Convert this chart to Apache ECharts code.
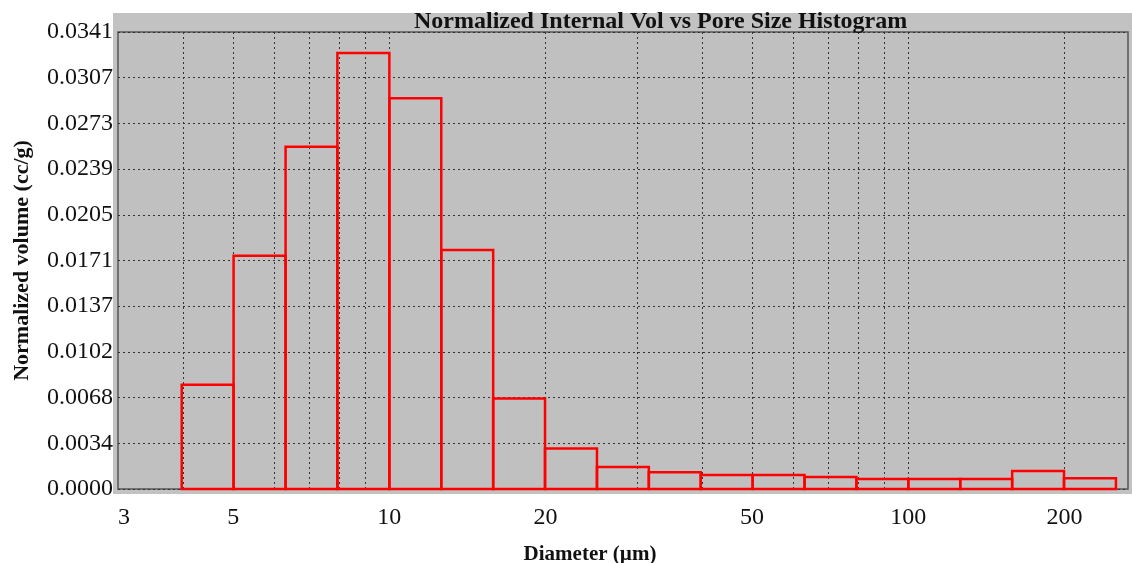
<!DOCTYPE html>
<html>
<head>
<meta charset="utf-8">
<script src="https://cdn.jsdelivr.net/npm/echarts@6/dist/echarts.min.js"></script>
<style>
html,body{margin:0;padding:0;background:#fff;}
#chart{width:1132px;height:563px;}
</style>
</head>
<body>
<div id="chart"></div>
<script>
// ---- data ----
const chartTitle = 'Normalized Internal Vol vs Pore Size Histogram';
const xAxisName = 'Diameter (µm)';
const yAxisName = 'Normalized volume (cc/g)';
// histogram bin edges (µm)
const binEdges = [3.98, 5.01, 6.31, 7.94, 10.0, 12.59, 15.85, 19.95, 25.12, 31.62, 39.81, 50.12, 63.10, 79.43, 100.0, 125.9, 158.5, 199.5, 251.2];
// normalized volume per bin (cc/g)
const volumes = [0.00778, 0.01743, 0.02556, 0.03257, 0.02920, 0.01785, 0.00676, 0.00302, 0.00165, 0.00125, 0.00105, 0.00105, 0.00090, 0.00075, 0.00075, 0.00075, 0.00135, 0.00080];
// axis ticks
const xLabelValues = [3, 5, 10, 20, 50, 100, 200];
const xGridValues = [4, 5, 6, 7, 8, 9, 10, 20, 30, 40, 50, 60, 70, 80, 90, 100, 200];
const xMin = 3, xMax = 265;
const yMax = 0.03414, ySplits = 10;

// ---- build ----
const lg = v => Math.log10(v);
const bars = volumes.map((v, i) => [lg(binEdges[i]), lg(binEdges[i + 1]), v]);

const serif = '"Liberation Serif", "Times New Roman", serif';
const chart = echarts.init(document.getElementById('chart'));
chart.setOption({
  animation: false,
  backgroundColor: '#ffffff',
  title: {
    text: chartTitle, left: 409, top: 5,
    textStyle: { fontFamily: serif, fontWeight: 'bold', fontSize: 24, color: '#111' }
  },
  graphic: [{
    type: 'rect', z: -10, silent: true,
    shape: { x: 113, y: 13, width: 1019, height: 481 },
    style: { fill: '#c2c2c2' }
  }],
  grid: {
    left: 118, top: 32, right: 4, bottom: 74,
    containLabel: false, outerBoundsMode: 'none',
    show: true, backgroundColor: '#c0c0c0', borderColor: '#555', borderWidth: 1.5
  },
  xAxis: {
    type: 'value', min: lg(xMin), max: lg(xMax),
    name: xAxisName, nameLocation: 'middle', nameGap: 55,
    nameTextStyle: { fontFamily: serif, fontWeight: 'bold', fontSize: 21, color: '#111', padding: [0, 66, 0, 0] },
    axisLine: { show: false },
    axisTick: { show: false, customValues: xGridValues.map(lg) },
    axisLabel: {
      customValues: xLabelValues.map(lg), margin: 17, alignMinLabel: 'left',
      fontFamily: serif, fontSize: 24, color: '#111',
      formatter: v => String(Math.round(Math.pow(10, v)))
    },
    splitLine: { show: true, lineStyle: { color: '#333', width: 1, type: [2, 3] } }
  },
  yAxis: {
    type: 'value', min: 0, max: yMax, interval: yMax / ySplits,
    name: yAxisName, nameLocation: 'middle', nameGap: 85, nameRotate: 90,
    nameTextStyle: { fontFamily: serif, fontWeight: 'bold', fontSize: 22, color: '#111' },
    axisLine: { show: false },
    axisTick: { show: false },
    axisLabel: {
      margin: 5, fontFamily: serif, fontSize: 24, color: '#111', padding: [5, 0, 0, 0],
      formatter: v => v.toFixed(4)
    },
    splitLine: { show: true, lineStyle: { color: '#333', width: 1, type: [2, 3] } }
  },
  series: [{
    type: 'custom',
    data: bars,
    encode: { x: [0, 1], y: 2 },
    renderItem: function (params, api) {
      const p0 = api.coord([api.value(0), api.value(2)]);
      const p1 = api.coord([api.value(1), 0]);
      return {
        type: 'rect',
        shape: { x: p0[0], y: p0[1], width: p1[0] - p0[0], height: p1[1] - p0[1] },
        style: { fill: 'none', stroke: '#ff0000', lineWidth: 2.5 }
      };
    }
  }]
});
</script>
</body>
</html>
